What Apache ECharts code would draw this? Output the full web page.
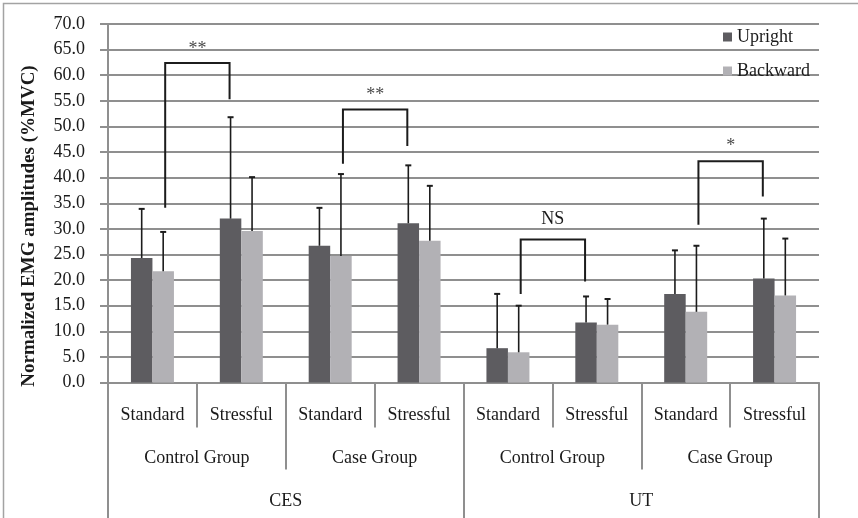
<!DOCTYPE html>
<html>
<head>
<meta charset="utf-8">
<script src="https://cdn.jsdelivr.net/npm/echarts@6/dist/echarts.min.js"></script>
<style>
  html, body { margin: 0; padding: 0; background: #fff; }
  #chart { width: 858px; height: 518px; }
</style>
</head>
<body>
<div id="chart"></div>
<script>
// Category levels (innermost first)
const conditions = ['Standard', 'Stressful', 'Standard', 'Stressful', 'Standard', 'Stressful', 'Standard', 'Stressful'];
const groups = ['Control Group', 'Case Group', 'Control Group', 'Case Group'];
const muscles = ['CES', 'UT'];

// Mean normalized EMG amplitudes (%MVC) and their standard deviations
const uprightMean = [24.3, 32.0, 26.7, 31.1, 6.7, 11.7, 17.3, 20.3];
const uprightSD = [9.6, 19.8, 7.4, 11.3, 10.6, 5.1, 8.5, 11.7];
const backwardMean = [21.7, 29.6, 24.7, 27.7, 5.9, 11.3, 13.8, 17.0];
const backwardSD = [7.7, 10.5, 16.0, 10.7, 9.1, 5.0, 12.9, 11.1];

// Significance brackets: from a category's Backward bar to the next category's Upright bar
const bracketFromCat = [0, 2, 4, 6];
const bracketToCat = [1, 3, 5, 7];
const bracketLeftFoot = [34.1, 42.7, 17.3, 30.8];
const bracketTop = [62.4, 53.3, 27.9, 43.2];
const bracketRightFoot = [55.3, 46.2, 19.7, 36.3];
const bracketText = ['**', '**', 'NS', '*'];
const bracketTextLevel = [65.0, 56.0, 31.9, 46.2];

// Y axis ticks
const yMin = 0, yMax = 70, yStep = 5;
const yTitle = 'Normalized EMG amplitudes (%MVC)';

const FONT = 'Liberation Serif';
const TEXT = '#1a1a1a';
const GRID = '#8f8f8f';
const BAR_W = 21.5;
const UPRIGHT_COLOR = '#5d5c60';
const BACKWARD_COLOR = '#b2b1b5';

const chart = echarts.init(document.getElementById('chart'), null, { renderer: 'canvas' });

function errorBarSeries(means, sds, side) {
  return {
    type: 'custom',
    xAxisIndex: 0,
    yAxisIndex: 0,
    z: 5,
    silent: true,
    data: means.map((m, i) => [i, m, m + sds[i]]),
    encode: { x: 0, y: [1, 2] },
    renderItem: function (params, api) {
      const idx = api.value(0);
      const base = api.coord([idx, api.value(1)]);
      const top = api.coord([idx, api.value(2)]);
      const x = base[0] + side * BAR_W / 2;
      return {
        type: 'group',
        children: [
          { type: 'line', shape: { x1: x, y1: base[1], x2: x, y2: top[1] }, style: { stroke: '#1c1c1c', lineWidth: 1.6 } },
          { type: 'line', shape: { x1: x - 3, y1: top[1], x2: x + 3, y2: top[1] }, style: { stroke: '#1c1c1c', lineWidth: 2 } }
        ]
      };
    }
  };
}

const bracketData = bracketFromCat.map((c, i) => [
  c, bracketToCat[i], bracketLeftFoot[i], bracketTop[i], bracketRightFoot[i], bracketTextLevel[i], i
]);

const option = {
  animation: false,
  backgroundColor: '#fff',
  textStyle: { fontFamily: FONT },
  grid: { left: 108, right: 39, top: 24, bottom: 135.5, containLabel: false },
  legend: {
    orient: 'vertical',
    left: 723,
    top: 28,
    padding: 0,
    itemGap: 16,
    itemWidth: 9,
    itemHeight: 9,
    icon: 'rect',
    selectedMode: false,
    textStyle: { fontFamily: FONT, fontSize: 18, lineHeight: 18, color: TEXT },
    data: ['Upright', 'Backward']
  },
  xAxis: [
    {
      type: 'category',
      position: 'bottom',
      data: conditions,
      axisLine: { show: true, lineStyle: { color: GRID, width: 2 } },
      axisTick: { show: true, interval: 0, length: 45, lineStyle: { color: GRID, width: 2 } },
      axisLabel: { interval: 0, margin: 24, fontFamily: FONT, fontSize: 18, color: TEXT },
      splitLine: { show: false }
    },
    {
      type: 'category',
      position: 'bottom',
      data: groups,
      axisLine: { show: false },
      axisTick: { show: true, interval: 0, length: 87, lineStyle: { color: GRID, width: 2 } },
      axisLabel: { interval: 0, margin: 67, fontFamily: FONT, fontSize: 18, color: TEXT },
      splitLine: { show: false }
    },
    {
      type: 'category',
      position: 'bottom',
      data: muscles,
      axisLine: { show: false },
      axisTick: { show: true, interval: 0, length: 140, lineStyle: { color: GRID, width: 2 } },
      axisLabel: { interval: 0, margin: 110, fontFamily: FONT, fontSize: 18, color: TEXT },
      splitLine: { show: false }
    }
  ],
  yAxis: {
    type: 'value',
    min: yMin,
    max: yMax,
    interval: yStep,
    axisLine: { show: true, lineStyle: { color: GRID, width: 2 } },
    axisTick: { show: true, length: 8, lineStyle: { color: GRID, width: 2 } },
    axisLabel: {
      margin: 23,
      fontFamily: FONT,
      fontSize: 18,
      color: TEXT,
      formatter: v => v.toFixed(1)
    },
    splitLine: { show: true, lineStyle: { color: GRID, width: 2 } }
  },
  graphic: [
    {
      type: 'rect',
      silent: true,
      z: -10,
      shape: { x: 3.5, y: 3.5, width: 900, height: 600 },
      style: { fill: 'none', stroke: '#a3a3a3', lineWidth: 1.5 }
    },
    {
      type: 'text',
      silent: true,
      x: 29,
      y: 226,
      rotation: Math.PI / 2,
      style: {
        text: yTitle,
        fontFamily: FONT,
        fontSize: 19,
        fontWeight: 'bold',
        fill: TEXT,
        align: 'center',
        verticalAlign: 'middle'
      }
    }
  ],
  series: [
    {
      name: 'Upright',
      type: 'bar',
      data: uprightMean,
      barWidth: BAR_W,
      barGap: '0%',
      itemStyle: { color: UPRIGHT_COLOR },
      z: 3
    },
    {
      name: 'Backward',
      type: 'bar',
      data: backwardMean,
      barWidth: BAR_W,
      barGap: '0%',
      itemStyle: { color: BACKWARD_COLOR },
      z: 3
    },
    errorBarSeries(uprightMean, uprightSD, -1),
    errorBarSeries(backwardMean, backwardSD, 1),
    {
      type: 'custom',
      z: 6,
      silent: true,
      data: bracketData,
      encode: { x: [0, 1], y: [2, 3, 4] },
      renderItem: function (params, api) {
        const from = api.value(0), to = api.value(1);
        const xl = api.coord([from, 0])[0] + BAR_W / 2 + 2;
        const xr = api.coord([to, 0])[0] - BAR_W / 2 - 1;
        const yl = api.coord([from, api.value(2)])[1];
        const yt = api.coord([from, api.value(3)])[1];
        const yr = api.coord([to, api.value(4)])[1];
        const ylab = api.coord([from, api.value(5)])[1];
        const label = bracketText[api.value(6)];
        const stars = label.indexOf('*') >= 0;
        return {
          type: 'group',
          children: [
            {
              type: 'polyline',
              shape: { points: [[xl, yl], [xl, yt], [xr, yt], [xr, yr]] },
              style: { stroke: '#1c1c1c', lineWidth: 2, fill: 'none' }
            },
            {
              type: 'text',
              style: {
                x: (xl + xr) / 2,
                y: ylab,
                text: label,
                fontFamily: FONT,
                fontSize: 18,
                fill: stars ? '#4a4a4a' : TEXT,
                align: 'center',
                verticalAlign: 'middle'
              }
            }
          ]
        };
      }
    }
  ]
};

chart.setOption(option);
</script>
</body>
</html>
